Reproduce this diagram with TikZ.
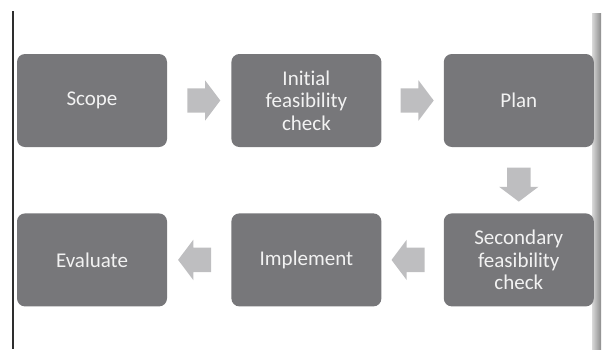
\documentclass[tikz,border=0pt]{standalone}
\usepackage{fontspec}
\setmainfont{Carlito}[Ligatures=NoCommon]
\usepackage{tikz}
\usetikzlibrary{positioning,shapes.arrows,calc}
\definecolor{procGrey}{HTML}{77777A}
\definecolor{flowGrey}{HTML}{BEBEC0}
\definecolor{ruleDark}{HTML}{2E2E2E}

\begin{document}
\begin{tikzpicture}[x=1pt,y=1pt,
  box/.style={fill=procGrey,rounded corners=8pt,minimum width=150pt,
    minimum height=93pt,text width=140pt,align=center,text=white!95!black,
    font=\fontsize{21}{22.5}\selectfont,inner sep=0pt},
  flow/.style={single arrow,fill=flowGrey,draw=none,inner xsep=0pt,inner ysep=12pt,
    minimum height=33pt,minimum width=40pt,single arrow head extend=8pt,
    single arrow tip angle=106,single arrow head indent=0pt,rotate=#1}]
\useasboundingbox (0,0) rectangle (603,-349);
% page edges
\draw[ruleDark,line width=2pt] (13,-11) -- (13,-349);
\shade[left color=black!15,right color=black!45] (592,-13) rectangle (601,-349);
% process steps
\node[box] (scope) at (92,-100.5) {Scope};
\node[box,right=64pt of scope] (init) {Initial\\feasibility\\check};
\node[box,right=62pt of init] (plan) {Plan};
\node[box,below=66pt of plan] (second) {Secondary\\feasibility\\check};
\node[box,left=62pt of second] (impl) {Implement};
\node[box,left=64pt of impl] (eval) {Evaluate};
% block arrows between steps
\node[flow=0] (a1) at ($(scope.east)!0.5!(init.west)$) {};
\node[flow=0] (a2) at ($(init.east)!0.5!(plan.west)$) {};
\node[flow=-90,minimum height=34pt,minimum width=39pt,inner ysep=11.5pt] (a3) at ($(plan.south)!0.5!(second.north)$) {};
\node[flow=180] (a4) at ($(second.west)!0.5!(impl.east)$) {};
\node[flow=180] (a5) at ($(impl.west)!0.5!(eval.east)$) {};
\end{tikzpicture}
\end{document}
